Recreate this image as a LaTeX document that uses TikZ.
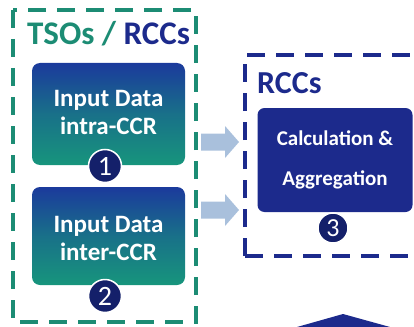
\documentclass[tikz,border=0pt]{standalone}
\usepackage{fontspec}
\setmainfont{Carlito}
\definecolor{teal1}{HTML}{1C8C74}
\definecolor{navy1}{HTML}{1C2A8C}
\definecolor{navyc}{HTML}{14206A}
\definecolor{boxtop}{HTML}{1B3A9C}
\definecolor{boxbot}{HTML}{17957C}
\definecolor{arrowc}{HTML}{A9C0DC}
\tikzset{
  dashbox/.style={line width=3.2pt, dash pattern=on 18pt off 11pt},
  inbox/.style={rounded corners=8pt, top color=boxtop, bottom color=boxbot, middle color=boxbot!60!boxtop, shading angle=0},
  intext/.style={text=white, font=\bfseries\fontsize{25}{28}\selectfont, align=center, inner sep=0pt},
  numc/.style={circle, fill=navyc, draw=white, line width=1.5pt, text=white, minimum size=33pt, inner sep=0pt,
    font=\fontsize{28}{28}\selectfont},
  blockarrow/.style={fill=arrowc, draw=none}
}
\begin{document}
\begin{tikzpicture}[x=1pt,y=-1pt]
\useasboundingbox (0,0) rectangle (414,326);
% left dashed container
\draw[dashbox, teal1] (13,10) rectangle (196,322);
\node[anchor=base west, font=\bfseries\fontsize{33}{33}\selectfont, inner sep=0pt] (title) at (27,45)
  {\textcolor{teal1}{TSOs /} \textcolor{navy1}{RCCs}};
% right dashed container
\draw[dashbox, navy1] (245,256) -- (245,55) -- (420,55);
\draw[dashbox, navy1] (245,256) -- (420,256);
\node[anchor=base west, font=\bfseries\fontsize{32}{32}\selectfont, text=navy1, inner sep=0pt] (rccs) at (257,93) {RCCs};
% boxes
\path[inbox] (32,63) rectangle (185,165);
\node[intext] (b1) at (108.5,112) {Input Data\\intra-CCR};
\path[inbox] (32,187) rectangle (185,285);
\node[intext] (b2) at (108.5,238) {Input Data\\inter-CCR};
\node[numc] (n1) at (105,166) {1};
\node[numc] (n2) at (105,296) {2};
% box 3
\node[fill=navy1, rounded corners=7pt, minimum width=155pt, minimum height=104pt, text=white,
  font=\bfseries\fontsize{21}{40}\selectfont, align=center] (b3) at (335,160) {Calculation \&\\Aggregation};
\node[numc, minimum size=30pt, font=\fontsize{26}{26}\selectfont] (n3) at (333,228) {3};
% arrows
\coordinate (a1) at (201,142);
\coordinate (a2) at (201,210);
\foreach \c in {a1,a2}
  \fill[blockarrow, shift={(\c)}] (0,-8.5) -- (24,-8.5) -- (24,-16) -- (38,0) -- (24,16) -- (24,8.5) -- (0,8.5) -- cycle;
% bottom shape
\fill[navy1] (297,327) -- (343,314) -- (390,327) -- cycle;
\end{tikzpicture}
\end{document}
